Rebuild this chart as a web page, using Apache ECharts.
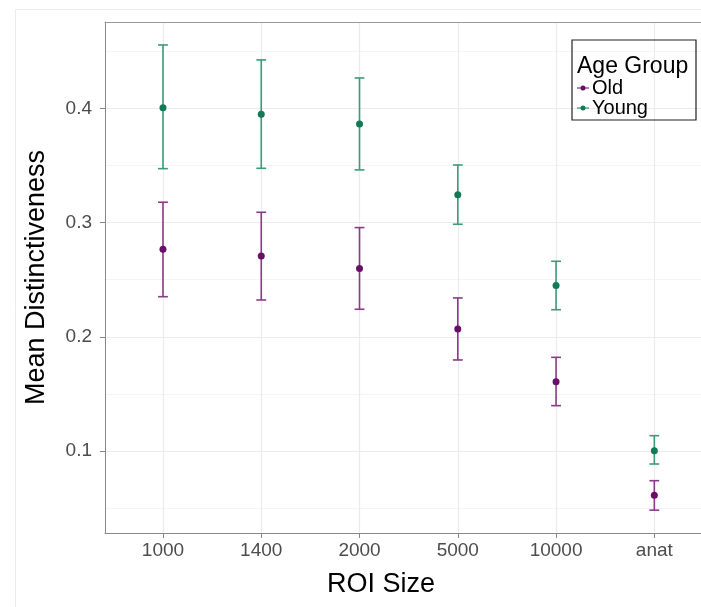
<!DOCTYPE html>
<html>
<head>
<meta charset="utf-8">
<title>Mean Distinctiveness by ROI Size</title>
<script src="https://cdn.jsdelivr.net/npm/echarts@6/dist/echarts.min.js"></script>
<style>
  html, body { margin: 0; padding: 0; background: #fff; }
  #chart { width: 701px; height: 607px; }
</style>
</head>
<body>
<div id="chart"></div>
<script>
// ROI size categories (discrete x axis)
var categories = ['1000', '1400', '2000', '5000', '10000', 'anat'];

// Old group: mean and error bar ends
var oldMean = [0.2766, 0.2708, 0.2597, 0.2068, 0.1607, 0.0613];
var oldLow  = [0.2351, 0.2322, 0.2241, 0.1797, 0.1397, 0.0482];
var oldHigh = [0.3178, 0.3090, 0.2956, 0.2340, 0.1820, 0.0740];

// Young group
var youngMean = [0.4006, 0.3948, 0.3863, 0.3244, 0.2448, 0.1003];
var youngLow  = [0.3472, 0.3475, 0.3461, 0.2985, 0.2237, 0.0886];
var youngHigh = [0.4555, 0.4424, 0.4266, 0.3504, 0.2661, 0.1134];

var yTicks = [0.1, 0.2, 0.3, 0.4];
var yMinor = [0.05, 0.15, 0.25, 0.35, 0.45];
var xPos = [1, 2, 3, 4, 5, 6];

function points(vals) {
    return vals.map(function (v, i) { return [xPos[i], v]; });
}
function bars(lo, hi) {
    return lo.map(function (v, i) { return [xPos[i], v, hi[i]]; });
}

// draws one error bar: vertical line + two caps
function renderErrorBar(params, api) {
    var x = api.value(0);
    var lo = api.coord([x, api.value(1)]);
    var hi = api.coord([x, api.value(2)]);
    var half = api.size([0.1, 0])[0] / 2;
    var style = { stroke: api.visual('color'), lineWidth: 1.6 };
    return {
        type: 'group',
        children: [
            { type: 'line', shape: { x1: hi[0], y1: hi[1], x2: lo[0], y2: lo[1] }, style: style },
            { type: 'line', shape: { x1: hi[0] - half, y1: hi[1], x2: hi[0] + half, y2: hi[1] }, style: style },
            { type: 'line', shape: { x1: lo[0] - half, y1: lo[1], x2: lo[0] + half, y2: lo[1] }, style: style }
        ]
    };
}

var oldColor = '#6a0f68', oldBar = '#8a3a88';
var youngColor = '#127a58', youngBar = '#3f9a79';
var legendIcon = 'path://M0,4.4H12V5.6H0Z M8.5,5A2.5,2.5 0 1 1 3.5,5A2.5,2.5 0 1 1 8.5,5Z';

// panel is cut off on the right, so the x range ends before the last expansion
var xMin = 0.41, xMax = 6.475;
var yMin = 0.0282, yMax = 0.4756;

var option = {
    backgroundColor: '#fff',
    animation: false,
    textStyle: { fontFamily: 'Liberation Sans, Arial, sans-serif' },
    graphic: [{
        type: 'rect', left: 13, top: 7, silent: true,
        shape: { width: 700, height: 610 },
        style: { fill: 'none', stroke: '#ececec', lineWidth: 1 }
    }],
    title: {
        text: 'Age Group', left: 577, top: 55, padding: 0,
        textStyle: { fontSize: 23, fontWeight: 'normal', color: '#000' }
    },
    legend: {
        orient: 'vertical', left: 572, top: 40,
        padding: [38, 48, 2, 5],
        borderColor: '#222', borderWidth: 1.2,
        itemWidth: 12, itemHeight: 10, itemGap: 0,
        textStyle: { fontSize: 20, color: '#000', lineHeight: 16, padding: [0, 0, 0, -2] },
        data: [
            { name: 'Old', icon: legendIcon, itemStyle: { color: oldColor } },
            { name: 'Young', icon: legendIcon, itemStyle: { color: youngColor } }
        ]
    },
    grid: { left: 105, top: 22, right: 0, height: 511 },
    xAxis: [{
        type: 'value', min: xMin, max: xMax,
        name: 'ROI Size', nameLocation: 'middle', nameGap: 38,
        nameTextStyle: { fontSize: 27, color: '#000', padding: [0, 44, 0, 0] },
        axisLine: { show: true, lineStyle: { color: '#888' } },
        axisTick: { show: true, length: 5, customValues: xPos, lineStyle: { color: '#888' } },
        axisLabel: {
            customValues: xPos, fontSize: 19, color: '#4d4d4d', margin: 8,
            formatter: function (v) { return categories[Math.round(v) - 1]; }
        },
        splitLine: { show: true, lineStyle: { color: '#ebebeb', width: 1.2 } }
    }, {
        // top panel border
        type: 'value', min: xMin, max: xMax, position: 'top',
        axisLine: { show: true, lineStyle: { color: '#999' } },
        axisTick: { show: false }, axisLabel: { show: false }, splitLine: { show: false }
    }],
    yAxis: [{
        type: 'value', min: yMin, max: yMax,
        name: 'Mean Distinctiveness', nameLocation: 'middle', nameGap: 55, nameRotate: 90,
        nameTextStyle: { fontSize: 27, color: '#000' },
        axisLine: { show: true, lineStyle: { color: '#888' } },
        axisTick: { show: true, length: 5, customValues: yTicks, lineStyle: { color: '#888' } },
        axisLabel: {
            customValues: yTicks, fontSize: 19, color: '#4d4d4d', margin: 13,
            formatter: function (v) { return v.toFixed(1); }
        },
        splitLine: { show: true, lineStyle: { color: '#ebebeb', width: 1.2 } }
    }, {
        // minor grid lines only
        type: 'value', min: yMin, max: yMax, position: 'left',
        axisLine: { show: false }, axisLabel: { show: false },
        axisTick: { show: false, customValues: yMinor },
        splitLine: { show: true, lineStyle: { color: '#f4f4f4', width: 1 } }
    }],
    series: [
        { name: 'Old', type: 'custom', renderItem: renderErrorBar, itemStyle: { color: oldBar },
          encode: { x: 0, y: [1, 2] }, data: bars(oldLow, oldHigh), z: 2 },
        { name: 'Young', type: 'custom', renderItem: renderErrorBar, itemStyle: { color: youngBar },
          encode: { x: 0, y: [1, 2] }, data: bars(youngLow, youngHigh), z: 2 },
        { name: 'Old', type: 'scatter', symbolSize: 7, itemStyle: { color: oldColor, opacity: 1 },
          data: points(oldMean), z: 3 },
        { name: 'Young', type: 'scatter', symbolSize: 7, itemStyle: { color: youngColor, opacity: 1 },
          data: points(youngMean), z: 3 }
    ]
};

var myChart = echarts.init(document.getElementById('chart'));
myChart.setOption(option);
</script>
</body>
</html>
